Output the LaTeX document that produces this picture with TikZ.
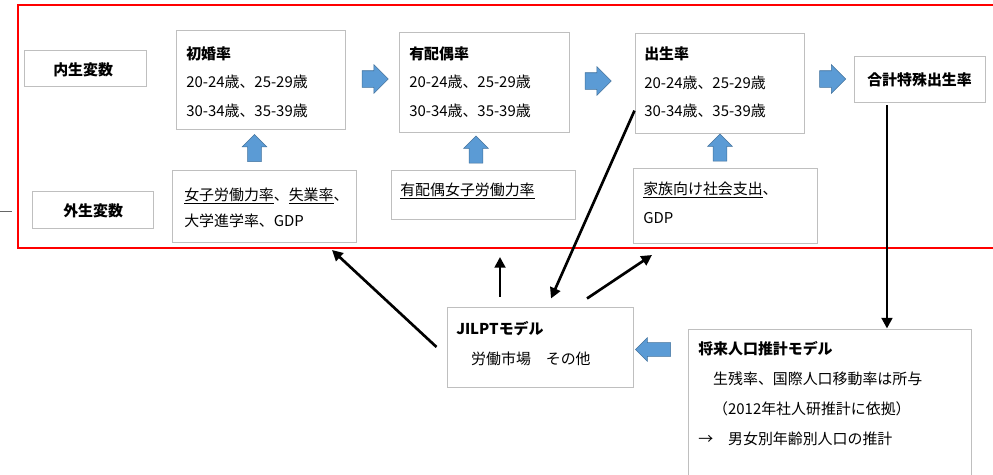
\documentclass[tikz,border=0pt]{standalone}
\usepackage{fontspec}
\setmainfont{Noto Sans CJK JP}
\usetikzlibrary{arrows.meta,shapes.arrows,fit}
\definecolor{framered}{RGB}{255,0,0}
\definecolor{boxgray}{RGB}{191,191,191}
\definecolor{arrowblue}{RGB}{91,155,213}
\definecolor{arrowedge}{RGB}{65,113,156}

\begin{document}
\begin{tikzpicture}[x=0.75pt,y=-0.75pt,font=\fontsize{11.2}{21.4}\selectfont,
  box/.style={draw=boxgray,line width=0.75pt,inner sep=0pt},
  txt/.style={anchor=base west,align=left,text width=#1,inner sep=0pt},
  txt/.default=160pt,
  rarrow/.style={single arrow,fill=arrowblue,draw=arrowedge,line width=0.4pt,inner xsep=2pt,inner ysep=6pt,single arrow head extend=4.5pt,minimum height=19.5pt},
  uarrow/.style={rarrow,shape border rotate=90,inner sep=4.9pt,single arrow head extend=4.1pt,minimum height=20.25pt},
  larrow/.style={rarrow,shape border rotate=180,inner sep=4.9pt,single arrow head extend=3.75pt,minimum height=26.25pt},
  link/.style={line width=2pt,-{Triangle[length=8pt,width=8pt]}}]
\useasboundingbox (0,0) rectangle (993,475);

% exogenous / endogenous frame
\draw[framered,line width=1.5pt] (18,5) rectangle (1005,248);
\draw[black!60,line width=0.75pt] (0,211) -- (12,211);

% labels on the left
\node[box,fit={(24,50) (146,86)}] (endo) {};
\node[txt=80pt] (endo-t) at (53,75) {\textbf{内生変数}};
\node[box,fit={(32,191) (153,228)}] (exo) {};
\node[txt=80pt] (exo-t) at (63,216.5) {\textbf{外生変数}};

% endogenous chain
\node[box,fit={(176,30) (345,129)}] (shokon) {};
\node[txt] (shokon-t) at (186,59) {\textbf{初婚率}\\20-24歳、25-29歳\\30-34歳、35-39歳};
\node[box,fit={(399,32) (569,132)}] (haigu) {};
\node[txt] (haigu-t) at (409,59) {\textbf{有配偶率}\\20-24歳、25-29歳\\30-34歳、35-39歳};
\node[box,fit={(635,33) (804,133)}] (shussei) {};
\node[txt] (shussei-t) at (644,59.5) {\textbf{出生率}\\20-24歳、25-29歳\\30-34歳、35-39歳};
\node[box,fit={(854,56) (985,102)}] (goukei) {};
\node[txt=120pt] (goukei-t) at (867,85) {\textbf{合計特殊出生率}};

\node[rarrow] (r1) at (371,79) {};
\node[rarrow] (r2) at (594,81) {};
\node[rarrow] (r3) at (828.5,79) {};

% exogenous inputs
\node[box,fit={(172,170) (356,242)}] (exo1) {};
\node[txt,font=\fontsize{11.2}{19.5}\selectfont] (exo1-t) at (184,200) {\underline{女子労働力率}、\underline{失業率}、\\大学進学率、GDP};
\node[box,fit={(391,170) (575,219)}] (exo2) {};
\node[txt] (exo2-t) at (400,195) {\underline{有配偶女子労働力率}};
\node[box,fit={(633,168) (817,243)}] (exo3) {};
\node[txt,font=\fontsize{11.2}{21.75}\selectfont] (exo3-t) at (643,194) {\underline{家族向け社会支出}、\\GDP};

\node[uarrow] (u1) at (254.5,151.5) {};
\node[uarrow] (u2) at (476,153) {};
\node[uarrow] (u3) at (720,151) {};

% models
\node[box,fit={(447,307) (633,387)}] (jilpt) {};
\node[txt,font=\fontsize{11.2}{22.5}\selectfont] (jilpt-t) at (456,334) {\textbf{JILPTモデル}\\　労働市場　その他};
\node[box,fit={(688,329) (971,490)}] (shorai) {};
\node[txt=270pt,font=\fontsize{11.2}{22.5}\selectfont] (shorai-t) at (698,354) {\textbf{将来人口推計モデル}\\　生残率、国際人口移動率は所与\\　（2012年社人研推計に依拠）\\→　男女別年齢別人口の推計};
\node[larrow] (l1) at (656.5,349.5) {};

% feedback links
\coordinate (exo-shokon) at (332,250);
\coordinate (exo-haigu) at (500,257);
\coordinate (exo-shussei) at (652,255);
\draw[link] ([xshift=-7.5pt]jilpt.west) -- (exo-shokon);
\draw[link] ([shift={(-40,-10)}]jilpt.north) -- (exo-haigu);
\draw[link] (shussei.198.7) -- ([shift={(11,-8)}]jilpt.north);
\draw[link] ([shift={(47,-8)}]jilpt.north) -- (exo-shussei);
\draw[link] ([xshift=-24.4pt,yshift=-2pt]goukei.south) coordinate (g) -- (g |- shorai.north);
\end{tikzpicture}
\end{document}
